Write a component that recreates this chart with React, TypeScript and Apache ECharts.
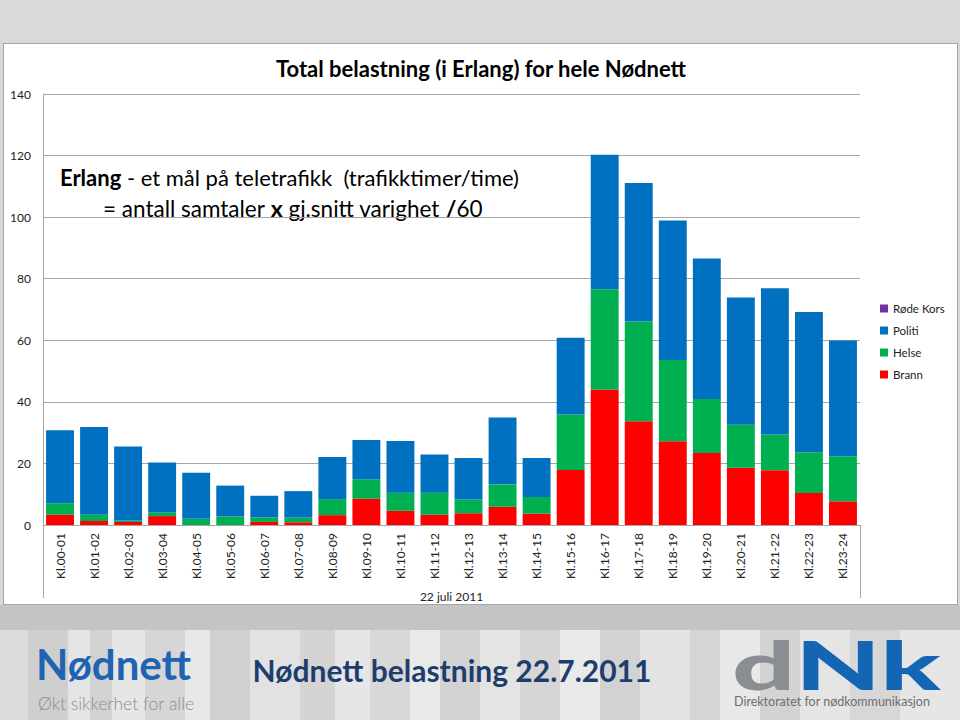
import React, { useEffect, useRef } from "react";
import * as echarts from "echarts";

const categories = [
  "Kl.00-01", "Kl.01-02", "Kl.02-03", "Kl.03-04", "Kl.04-05", "Kl.05-06",
  "Kl.06-07", "Kl.07-08", "Kl.08-09", "Kl.09-10", "Kl.10-11", "Kl.11-12",
  "Kl.12-13", "Kl.13-14", "Kl.14-15", "Kl.15-16", "Kl.16-17", "Kl.17-18",
  "Kl.18-19", "Kl.19-20", "Kl.20-21", "Kl.21-22", "Kl.22-23", "Kl.23-24",
];

const brann = [3.3, 1.3, 1.0, 2.9, 0, 0, 1.0, 0.9, 3.2, 8.5, 4.6, 3.3, 3.8, 5.9, 3.7, 17.9, 44.0, 33.7, 27.2, 23.4, 18.6, 17.8, 10.4, 7.7];
const helse = [3.8, 2.0, 0.5, 1.2, 2.0, 2.8, 1.5, 1.5, 5.2, 6.4, 5.9, 7.2, 4.5, 7.3, 5.4, 18.0, 32.6, 32.4, 26.4, 17.5, 14.0, 11.6, 13.2, 14.6];
const politi = [23.7, 28.5, 24.0, 16.2, 15.0, 10.0, 7.0, 8.6, 13.7, 12.7, 16.8, 12.4, 13.5, 21.7, 12.7, 24.9, 43.7, 45.0, 45.3, 45.7, 41.3, 47.5, 45.6, 37.6];
const rodeKors = [0, 0, 0, 0, 0, 0, 0, 0, 0, 0, 0, 0, 0, 0, 0, 0, 0, 0, 0, 0, 0, 0, 0, 0];

const yTicks = { min: 0, max: 140, interval: 20 };
const legendOrder = ["Røde Kors", "Politi", "Helse", "Brann"];

const FONT = "Lato, 'Open Sans', 'DejaVu Sans', sans-serif";

const stripes =
  "linear-gradient(90deg," +
  "#dcdcdc 0px,#dcdcdc 28px,#cfcfcf 28px,#cfcfcf 68px,#e4e4e4 68px,#e4e4e4 90px," +
  "#d2d2d2 90px,#d2d2d2 112px,#e6e6e6 112px,#e6e6e6 145px,#d6d6d6 145px,#d6d6d6 185px," +
  "#e8e8e8 185px,#e8e8e8 210px,#d0d0d0 210px,#d0d0d0 250px,#e2e2e2 250px,#e2e2e2 300px," +
  "#d4d4d4 300px,#d4d4d4 335px,#e6e6e6 335px,#e6e6e6 370px,#d8d8d8 370px,#d8d8d8 410px," +
  "#e9e9e9 410px,#e9e9e9 440px,#d3d3d3 440px,#d3d3d3 480px,#e4e4e4 480px,#e4e4e4 520px," +
  "#d6d6d6 520px,#d6d6d6 560px,#eaeaea 560px,#eaeaea 600px,#d2d2d2 600px,#d2d2d2 640px," +
  "#e3e3e3 640px,#e3e3e3 690px,#d5d5d5 690px,#d5d5d5 720px,#e8e8e8 720px,#e8e8e8 760px," +
  "#d3d3d3 760px,#d3d3d3 800px,#e5e5e5 800px,#e5e5e5 850px,#d7d7d7 850px,#d7d7d7 900px," +
  "#e6e6e6 900px,#e6e6e6 960px)";

export default function App() {
  const ref = useRef<HTMLDivElement>(null);

  useEffect(() => {
    if (!ref.current) return;
    const chart = echarts.init(ref.current, null, { renderer: "svg" });
    const barBase = {
      type: "bar" as const,
      stack: "total",
      barCategoryGap: "18%",
    };
    chart.setOption({
      animation: false,
      backgroundColor: "transparent",
      textStyle: { fontFamily: FONT },
      grid: { left: 43, right: 100, top: 94, bottom: 195 },
      legend: {
        data: legendOrder,
        orient: "vertical",
        left: 875,
        top: 297,
        itemWidth: 8,
        itemHeight: 8,
        itemGap: 9,
        icon: "rect",
        textStyle: { fontSize: 11.5, color: "#222", fontFamily: FONT, lineHeight: 13 },
      },
      xAxis: {
        type: "category",
        data: categories,
        axisTick: { show: false },
        axisLine: { lineStyle: { color: "#a6a6a6" } },
        axisLabel: {
          rotate: 90,
          fontSize: 12,
          color: "#222",
          margin: 8,
          fontFamily: FONT,
        },
        name: "22 juli 2011",
        nameLocation: "middle",
        nameGap: 65,
        nameTextStyle: { fontSize: 12, color: "#222", fontFamily: FONT },
      },
      yAxis: {
        type: "value",
        min: yTicks.min,
        max: yTicks.max,
        interval: yTicks.interval,
        axisLine: { show: true, lineStyle: { color: "#a6a6a6" } },
        axisTick: { show: false },
        splitLine: { lineStyle: { color: "#a6a6a6" } },
        axisLabel: { fontSize: 12, color: "#222", margin: 12, fontFamily: FONT },
      },
      series: [
        { ...barBase, name: "Brann", data: brann, itemStyle: { color: "#ff0000" } },
        { ...barBase, name: "Helse", data: helse, itemStyle: { color: "#00b050" } },
        { ...barBase, name: "Politi", data: politi, itemStyle: { color: "#0070c0" } },
        { ...barBase, name: "Røde Kors", data: rodeKors, itemStyle: { color: "#7030a0" } },
      ],
      graphic: [
        {
          type: "line",
          shape: { x1: 43.5, y1: 94, x2: 43.5, y2: 598 },
          style: { stroke: "#a6a6a6", lineWidth: 1 },
        },
        {
          type: "line",
          shape: { x1: 860.5, y1: 525, x2: 860.5, y2: 598 },
          style: { stroke: "#a6a6a6", lineWidth: 1 },
        },
        {
          type: "text",
          x: 481,
          y: 68,
          style: {
            text: "Total belastning (i Erlang) for hele Nødnett",
            fontSize: 22,
            fontWeight: "bold",
            fontFamily: FONT,
            fill: "#000",
            align: "center",
            verticalAlign: "middle",
          },
        },
        {
          type: "text",
          x: 60,
          y: 177,
          style: {
            text: "{b|Erlang} - et mål på teletrafikk  (trafikktimer/time)",
            fontSize: 22,
            fontFamily: FONT,
            fill: "#000",
            verticalAlign: "middle",
            rich: { b: { fontWeight: "bold", fontSize: 22, fontFamily: FONT } },
          },
        },
        {
          type: "text",
          x: 103,
          y: 208,
          style: {
            text: "= antall samtaler {b|x} gj.snitt varighet {b|/}60",
            fontSize: 22.5,
            fontFamily: FONT,
            fill: "#000",
            verticalAlign: "middle",
            rich: { b: { fontWeight: "bold", fontSize: 23, fontFamily: FONT } },
          },
        },
        {
          type: "text",
          x: 36,
          y: 664,
          style: {
            text: "Nødnett",
            fontSize: 42,
            lineHeight: 30,
            fontWeight: "bold",
            fontFamily: FONT,
            fill: "#1f64b0",
            verticalAlign: "middle",
          },
        },
        {
          type: "text",
          x: 38,
          y: 703,
          style: {
            text: "Økt sikkerhet for alle",
            fontSize: 17.5,
            lineHeight: 16,
            fontWeight: 300,
            fontFamily: FONT,
            fill: "#8c8c8c",
            verticalAlign: "middle",
          },
        },
        {
          type: "text",
          x: 452,
          y: 670,
          style: {
            text: "Nødnett belastning 22.7.2011",
            fontSize: 30,
            fontWeight: "bold",
            fontFamily: FONT,
            fill: "#1f3c6e",
            align: "center",
            verticalAlign: "middle",
          },
        },
        {
          type: "text",
          x: 732,
          y: 664,
          scaleX: 1.68,
          style: {
            text: "{d|d}{n|Nk}",
            fontFamily: FONT,
            verticalAlign: "middle",
            rich: {
              d: { fontSize: 66, lineHeight: 44, fontWeight: 900, fill: "#8a8d91", fontFamily: FONT },
              n: { fontSize: 66, lineHeight: 44, fontWeight: 900, fill: "#1565b5", fontFamily: FONT },
            },
          },
        },
        {
          type: "text",
          x: 734,
          y: 701,
          style: {
            text: "Direktoratet for nødkommunikasjon",
            fontSize: 12.5,
            lineHeight: 12,
            fontFamily: FONT,
            fill: "#6d6f72",
            verticalAlign: "middle",
          },
        },
      ],
    });
    return () => chart.dispose();
  }, []);

  return (
    <div
      style={{
        position: "fixed",
        left: 0,
        top: 0,
        width: 960,
        height: 720,
        background: "#d9d9d9",
        overflow: "hidden",
      }}
    >
      <div
        style={{
          position: "absolute",
          left: 3,
          top: 43,
          width: 953,
          height: 560,
          background: "#ffffff",
          border: "1px solid #a6a6a6",
        }}
      />
      <div
        style={{
          position: "absolute",
          left: 0,
          top: 605,
          width: 960,
          height: 25,
          background: "#c4c4c4",
        }}
      />
      <div
        style={{
          position: "absolute",
          left: 0,
          top: 630,
          width: 960,
          height: 90,
          background: stripes,
        }}
      />
      <div
        ref={ref}
        style={{ position: "absolute", left: 0, top: 0, width: 960, height: 720 }}
      />
    </div>
  );
}
